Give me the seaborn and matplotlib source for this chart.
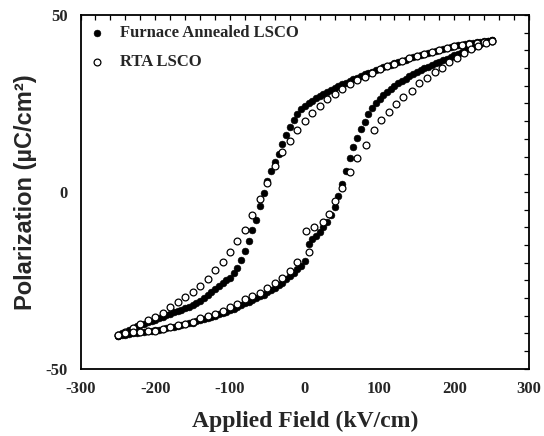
import numpy as np
import pandas as pd
import matplotlib
matplotlib.use("Agg")
import matplotlib.pyplot as plt
from matplotlib.ticker import MultipleLocator
import seaborn as sns

# Furnace annealed LSCO: descending branch (+250 -> -250 kV/cm)
fa_down_field = [250, 245, 240, 235, 230, 225, 220, 215, 210, 205, 200, 195, 190, 185, 180,
                 175, 170, 165, 160, 155, 150, 145, 140, 135, 130, 125, 120, 115, 110, 105,
                 100, 95, 90, 85, 80, 75, 70, 65, 60, 55, 50, 45, 40, 35, 30, 25, 20, 15, 10,
                 5, 0, -5, -10, -15, -20, -25, -30, -35, -40, -45, -50, -55, -60, -65, -70,
                 -75, -80, -85, -90, -95, -100, -105, -110, -115, -120, -125, -130, -135,
                 -140, -145, -150, -155, -160, -165, -170, -175, -180, -185, -190, -195,
                 -200, -205, -210, -215, -220, -225, -230, -235, -240, -245, -250]
fa_down_pol = [42.8, 42.7, 42.6, 42.4, 42.3, 42.1, 42.0, 41.8, 41.6, 41.4, 41.2, 40.9, 40.7,
               40.4, 40.2, 39.9, 39.6, 39.3, 39.0, 38.7, 38.4, 38.1, 37.8, 37.4, 37.1, 36.7,
               36.4, 36.0, 35.6, 35.2, 34.8, 34.4, 34.0, 33.6, 33.2, 32.7, 32.3, 31.8, 31.4,
               30.9, 30.4, 29.9, 29.4, 28.8, 28.3, 27.7, 27.1, 26.5, 25.8, 25.1, 24.3, 23.3,
               22.0, 20.3, 18.3, 16.0, 13.6, 10.8, 8.5, 5.8, 3.0, -0.3, -4.0, -8.0, -10.8,
               -13.8, -16.8, -19.2, -21.4, -23.0, -24.2, -25.0, -25.8, -26.6, -27.4, -28.2,
               -29.0, -29.9, -30.8, -31.4, -32.0, -32.5, -32.9, -33.3, -33.7, -34.0, -34.4,
               -34.8, -35.3, -35.7, -36.1, -36.4, -36.8, -37.2, -37.6, -38.0, -38.5, -39.0,
               -39.5, -40.0, -40.6]

# Furnace annealed LSCO: ascending branch (-250 -> +250 kV/cm)
fa_up_field = [-250, -245, -240, -235, -230, -225, -220, -215, -210, -205, -200, -195, -190,
               -185, -180, -175, -170, -165, -160, -155, -150, -145, -140, -135, -130, -125,
               -120, -115, -110, -105, -100, -95, -90, -85, -80, -75, -70, -65, -60, -55,
               -50, -45, -40, -35, -30, -25, -20, -15, -10, -5, 0, 5, 10, 15, 20, 25, 30, 35,
               40, 45, 50, 55, 60, 65, 70, 75, 80, 85, 90, 95, 100, 105, 110, 115, 120, 125,
               130, 135, 140, 145, 150, 155, 160, 165, 170, 175, 180, 185, 190, 195, 200,
               205, 210, 215, 220, 225, 230, 235, 240, 245, 250]
fa_up_pol = [-40.7, -40.5, -40.3, -40.2, -40.0, -39.9, -39.7, -39.6, -39.4, -39.3, -39.1,
             -38.9, -38.7, -38.5, -38.3, -38.1, -37.9, -37.6, -37.4, -37.1, -36.9, -36.6,
             -36.3, -36.0, -35.7, -35.4, -35.0, -34.6, -34.2, -33.8, -33.4, -33.0, -32.5,
             -32.0, -31.5, -31.0, -30.5, -30.0, -29.5, -29.0, -28.4, -27.8, -27.2, -26.4,
             -25.6, -24.7, -23.8, -22.9, -21.9, -20.8, -19.5, -14.6, -13.4, -12.4, -11.4,
             -10.0, -8.4, -6.6, -4.2, -1.1, 2.3, 5.8, 9.6, 12.6, 15.2, 17.7, 19.9, 21.9,
             23.6, 25.0, 26.3, 27.3, 28.3, 29.1, 29.9, 30.7, 31.4, 32.0, 32.7, 33.3, 33.9,
             34.4, 34.9, 35.4, 35.9, 36.4, 36.8, 37.3, 37.7, 38.2, 38.7, 39.1, 39.6, 40.1,
             40.6, 41.0, 41.5, 41.9, 42.3, 42.6, 42.8]

# RTA LSCO: descending branch
rta_down_field = [250, 240, 230, 220, 210, 200, 190, 180, 170, 160, 150, 140, 130, 120, 110,
                  100, 90, 80, 70, 60, 50, 40, 30, 20, 10, 0, -10, -20, -30, -40, -50, -60,
                  -70, -80, -90, -100, -110, -120, -130, -140, -150, -160, -170, -180, -190,
                  -200, -210, -220, -230, -240, -250]
rta_down_pol = [42.7, 42.4, 42.2, 41.9, 41.5, 41.1, 40.6, 40.1, 39.5, 39.0, 38.4, 37.8, 36.9,
                36.2, 35.5, 34.7, 33.7, 32.6, 31.5, 30.4, 29.2, 27.8, 26.2, 24.4, 22.4, 20.0,
                17.5, 14.4, 11.3, 7.2, 2.4, -1.9, -6.5, -10.7, -14.0, -17.1, -19.8, -22.0,
                -24.5, -26.5, -28.2, -29.6, -31.0, -32.6, -34.1, -35.4, -36.3, -37.2, -38.4,
                -39.7, -40.5]

# RTA LSCO: ascending branch
rta_up_field = [-250, -240, -230, -220, -210, -200, -190, -180, -170, -160, -150, -140, -130,
                -120, -110, -100, -90, -80, -70, -60, -50, -40, -30, -20, -10, 5, 2, 12, 24,
                32, 40, 50, 60, 70, 82, 92, 102, 112, 122, 132, 143, 153, 163, 174, 184, 193,
                203, 213, 223, 232, 242, 250]
rta_up_pol = [-40.4, -40.0, -39.7, -39.5, -39.3, -39.2, -38.6, -38.2, -37.7, -37.3, -36.7,
              -35.6, -35.1, -34.4, -33.7, -32.6, -31.6, -30.4, -29.5, -28.5, -27.1, -25.8,
              -24.3, -22.4, -19.7, -17.0, -11.0, -9.9, -8.4, -6.1, -2.6, 1.2, 5.6, 9.6, 13.3,
              17.6, 20.3, 22.7, 24.8, 26.9, 28.6, 30.7, 32.1, 34.0, 35.1, 36.7, 37.8, 39.2,
              40.3, 41.1, 42.2, 42.7]

x_ticks = [-300, -200, -100, 0, 100, 200, 300]
y_ticks = [-50, 0, 50]

fa = pd.DataFrame({"field": fa_down_field + fa_up_field,
                   "pol": fa_down_pol + fa_up_pol})
rta = pd.DataFrame({"field": rta_down_field + rta_up_field,
                    "pol": rta_down_pol + rta_up_pol})

sns.set_style("white")
plt.rcParams["font.family"] = ["Liberation Serif", "DejaVu Serif"]
plt.rcParams["axes.unicode_minus"] = False

fig = plt.figure(figsize=(5.44, 4.36), dpi=100)
ax = fig.add_axes([0.148, 0.154, 0.8245, 0.8116])

sns.scatterplot(data=fa, x="field", y="pol", ax=ax, color="black", edgecolor="black",
                linewidth=0.4, s=24, marker="o", label="Furnace Annealed LSCO", zorder=2)
sns.scatterplot(data=rta, x="field", y="pol", ax=ax, color="white", edgecolor="black",
                linewidth=0.9, s=24, marker="o", label="RTA LSCO", zorder=3)

ax.set_xlim(-300, 300)
ax.set_ylim(-50, 50)
ax.set_xticks(x_ticks)
ax.set_yticks(y_ticks)
ax.set_xticklabels([str(v) for v in x_ticks])
ax.set_yticklabels([str(v) for v in y_ticks])
ax.xaxis.set_minor_locator(MultipleLocator(20))
ax.yaxis.set_minor_locator(MultipleLocator(5))
ax.tick_params(which="both", direction="in", top=True, right=True, length=3.5,
               width=0.9, color="black")
ax.tick_params(axis="x", labelsize=12, pad=9)
ax.tick_params(axis="y", labelsize=12, pad=9)
for lab in ax.get_xticklabels() + ax.get_yticklabels():
    lab.set_fontweight("bold")
    lab.set_family("Liberation Serif")

for sp in ax.spines.values():
    sp.set_linewidth(1.3)
    sp.set_color("black")

ax.set_xlabel("Applied Field (kV/cm)", fontsize=17, fontweight="bold",
              family="Liberation Serif", labelpad=10)
ax.set_ylabel("Polarization (\u00b5C/cm\u00b2)", fontsize=17, fontweight="bold",
              family="Liberation Sans", labelpad=6)

ax.legend(loc="upper left", frameon=False, handlelength=0.8, handletextpad=0.95,
          labelspacing=0.8, borderaxespad=0.3, borderpad=0.3,
          prop={"family": "Liberation Serif", "weight": "bold", "size": 12})

fig.savefig("out.png", dpi=100)
